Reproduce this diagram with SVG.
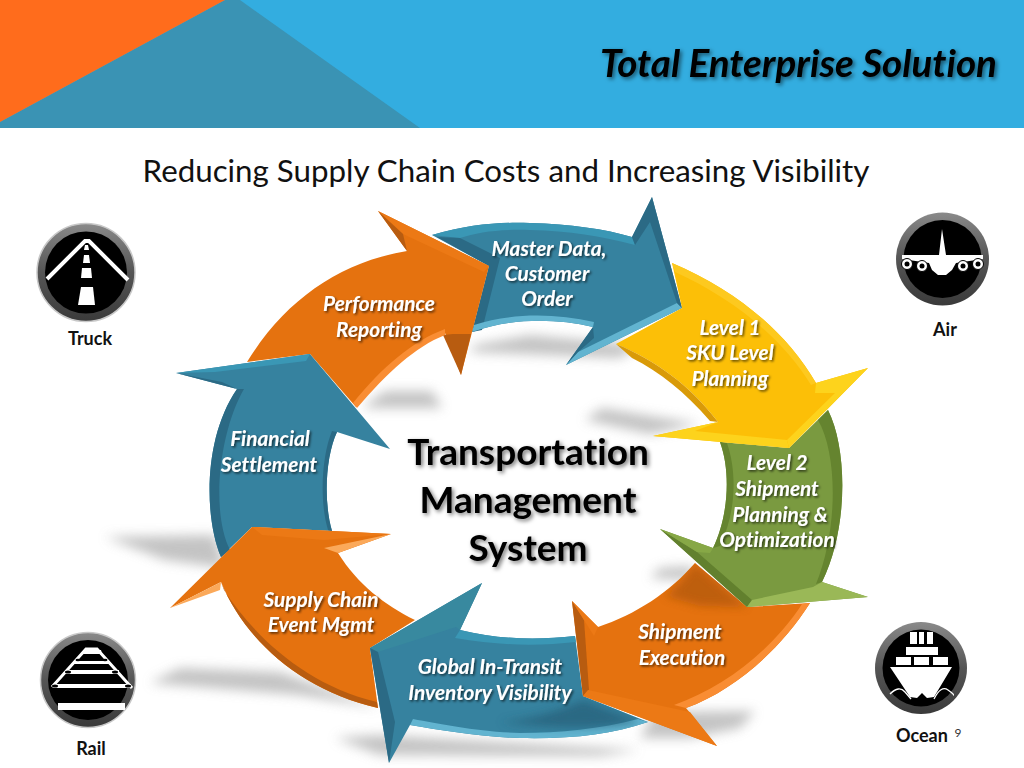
<svg xmlns="http://www.w3.org/2000/svg" width="1024" height="768" viewBox="0 0 1024 768">
<defs>
<filter id="blur" x="-30%" y="-80%" width="160%" height="260%"><feGaussianBlur stdDeviation="6"/></filter>
<filter id="soft" x="-30%" y="-30%" width="160%" height="160%"><feGaussianBlur stdDeviation="4"/></filter>
<filter id="ts" x="-10%" y="-20%" width="125%" height="150%"><feDropShadow dx="1.5" dy="1.5" stdDeviation="1" flood-color="#000" flood-opacity=".65"/></filter>
<filter id="ts2" x="-10%" y="-20%" width="125%" height="150%"><feDropShadow dx="2" dy="2" stdDeviation="2" flood-color="#000" flood-opacity=".55"/></filter>
<linearGradient id="ring" x1="0" y1="0" x2="0" y2="1"><stop offset="0" stop-color="#8a8a8a"/><stop offset=".5" stop-color="#555"/><stop offset="1" stop-color="#3a3a3a"/></linearGradient>
<clipPath id="cs"><path d="M695 563 L747 607 L810 603 C 780 650 735 690 686 708 L717 746 L583 696 L572 601 L598 627 C 635 615 670 592 695 563 Z"/></clipPath>
<clipPath id="cg"><path d="M482 583 L460 630 C 500 640 540 640 575 636 L583 696 L648 722 C 610 735 570 739 520 738 C 480 737 440 730 410 725 L389 763 L370 648 Z"/></clipPath>
</defs>
<style>
text{font-family:Lato,"Liberation Sans",sans-serif;font-variant-ligatures:none}
.lb{font-weight:700;font-style:italic;font-size:20.8px;fill:#fff;text-anchor:middle;filter:url(#ts)}
.ct{font-weight:700;font-size:37px;fill:#000;text-anchor:middle;filter:url(#ts2)}
.ic{font-weight:700;font-size:18px;fill:#111;text-anchor:middle}
.o{fill:#e5720f}.ol{fill:#ec7915}.od{fill:#b85c10}.op{fill:#fba95a}
.t{fill:#36829f}.tl{fill:#3a97b5}.tm{fill:#38899f}.td{fill:#2b6a85}.tp{fill:#62b4d0}
.ring{fill:url(#ring);stroke:#c8c8c8;stroke-width:1.5}
.w{fill:#fff}.k{fill:#000}
.sh{fill:#aaa;opacity:.7;filter:url(#blur)}
</style>
<rect width="1024" height="768" fill="#fff"/>
<g id="header">
<rect width="1024" height="128" fill="#33ade0"/>
<polygon points="0,122 225,0 240,0 420,128 0,128" fill="#3a93b4"/>
<polygon points="0,0 225,0 0,122" fill="#ff6c1c"/>
<text x="997" y="77" text-anchor="end" font-size="38.6" font-weight="700" font-style="italic" fill="#000" filter="url(#ts2)">Total Enterprise Solution</text>
</g>
<text id="subtitle" x="506" y="182" text-anchor="middle" font-size="31.3" fill="#111">Reducing Supply Chain Costs and Increasing Visibility</text>
<g id="shadows">
<polygon class="sh" points="362,408 442,408 432,391 385,391"/>
<polygon class="sh" points="475,345 530,335 640,345 620,358 470,352"/>
<polygon class="sh" points="585,420 602,408 700,424 650,434"/>
<polygon class="sh" points="105,537 215,535 225,568 165,560"/>
<polygon class="sh" points="150,683 180,668 280,672 380,708 300,695"/>
<polygon class="sh" points="335,738 380,735 640,750 600,756 380,755"/>
<polygon class="sh" points="655,712 755,711 740,728 690,738 640,738"/>
<polygon class="sh" points="660,568 695,566 690,580 650,578"/>
</g>
<g id="arrow-master">
<path class="t" d="M432 235 C 470 224 500 222 530 223 C 570 224 605 229 632 237 L652 197 L682 308 L566 365 L593 327 C 555 318 510 318 472 332 L489 266 Z"/>
<path class="tl" d="M432 235 C 470 224 500 222 530 223 C 570 224 605 229 632 237 L635 245 C 600 236 570 231 530 230 C 500 229 478 232 460 238 Z"/>
<path class="td" d="M437 237 L460 238 L500 258 L482 330 L472 332 L489 266 Z"/>
<path class="tp" d="M472 332 C 510 318 555 318 593 327 L594 322 C 555 313 510 313 474 325 Z"/>
<polygon class="tp" points="682,308 566,365 578,352 677,303"/>
<polygon class="td" points="566,365 593,327 594,338 578,352"/>
<polygon class="td" points="652,197 682,308 677,303 650,222 635,245 632,237"/>
</g>
<g id="arrow-performance">
<path class="o" d="M247 362 C 285 300 340 262 407 251 L378 211 L489 266 L461 375 L445 333 C 415 345 385 370 356 407 L310 354 Z"/>
<polygon class="ol" points="378,211 489,266 484,272 403,234"/>
<polygon class="od" points="378,211 403,234 407,251"/>
<polygon class="od" points="443,335 461,375 471,334 453,334"/>
<path d="M353 403 C 383 366 413 341 445 329 L445 335 C 415 347 388 372 357 408 Z" fill="#f98d33"/>
</g>
<g id="arrow-financial">
<path class="t" d="M176 373 L310 354 L390 449 L337 432 C 326 455 323 500 332 531 L252 527 L221 557 C 205 520 202 440 237 389 Z"/>
<polygon class="tl" points="176,373 310,354 306,361 215,372"/>
<polygon class="td" points="176,373 237,389 222,382"/>
<path class="td" d="M237 389 L244 389 C 220 430 210 510 230 550 L221 557 C 205 520 202 440 237 389 Z"/>
<path class="td" d="M337 432 C 326 455 323 500 332 531 L328 530 C 319 500 322 455 332 431 Z"/>
</g>
<g id="arrow-supply">
<path class="o" d="M252 527 L391 534 L338 553 C 358 585 385 605 415 620 L370 648 L378 708 C 300 690 245 640 221 582 L170 608 Z"/>
<polygon class="ol" points="252,527 391,534 324,540 262,535"/>
<polygon class="op" points="391,534 324,548 338,553"/>
<polygon class="op" points="170,608 221,582 220,590"/>
<path class="od" d="M221 582 C 245 640 300 690 378 708 L377 702 C 305 685 253 635 224 590 Z"/>
</g>
<g id="arrow-global">
<path class="t" d="M482 583 L460 630 C 500 640 540 640 575 636 L583 696 L648 722 C 610 735 570 739 520 738 C 480 737 440 730 410 725 L389 763 L370 648 Z"/>
<path class="tl" d="M460 630 C 500 640 540 640 575 636 L576 642 C 540 646 500 646 455 638 Z"/>
<polygon class="tm" points="370,648 482,583 460,630 456,627 378,652"/>
<polygon class="td" points="370,648 389,763 395,722 378,652"/>
<path class="tp" d="M410 725 C 440 730 480 737 520 738 C 570 739 610 735 648 722 L638 719 C 600 729 560 733 520 733 C 480 732 440 724 413 719 Z"/>
<g clip-path="url(#cg)"><path d="M583 700 L640 722 C 590 730 550 728 500 722 C 540 718 565 708 583 700 Z" fill="#285f78" opacity=".7" filter="url(#soft)"/></g>
</g>
<g id="arrow-shipment">
<path class="o" d="M695 563 L747 607 L810 603 C 780 650 735 690 686 708 L717 746 L583 696 L572 601 L598 627 C 635 615 670 592 695 563 Z"/>
<polygon class="od" points="572,601 583,696 589,690 584,620"/>
<polygon class="ol" points="583,696 717,746 690,712 588,690"/>
<polygon class="ol" points="572,601 598,627 594,636 584,620"/>
<path d="M810 603 C 780 650 735 690 686 708 L674 705 C 725 687 772 650 802 604 Z" fill="#f98d33"/>
<g clip-path="url(#cs)"><path d="M695 563 L747 607 L700 606 L665 596 C 675 590 685 575 695 563 Z" fill="#b85c10" opacity=".85" filter="url(#soft)"/></g>
</g>
<g id="arrow-level2">
<path d="M720 442 L789 448 L828 410 C 848 450 848 530 822 582 L868 597 L747 607 L660 529 L713 548 C 727 520 732 475 720 442 Z" fill="#7a9a40"/>
<path d="M828 410 C 848 450 848 530 822 582 L816 584 C 838 530 838 455 818 420 Z" fill="#65842f"/>
<path d="M720 442 C 732 475 727 520 713 548 L720 546 C 735 515 738 475 727 443 Z" fill="#65842f"/>
<polygon points="660,529 747,607 752,600 697,552" fill="#62802e"/>
<polygon points="660,529 713,548 710,553 697,552" fill="#87a846"/>
<polygon points="747,607 868,597 822,582 813,587 752,600" fill="#9ab857"/>
</g>
<g id="arrow-level1">
<path d="M672 263 C 735 290 785 330 816 383 L868 368 L789 448 L653 436 L718 422 C 690 385 655 360 616 344 L682 308 Z" fill="#fcbf07"/>
<path d="M672 263 C 735 290 785 330 816 383 L811 385 C 780 335 730 297 675 272 Z" fill="#fdc91f"/>
<path d="M616 344 C 655 360 690 385 718 422 L710 421 C 685 392 660 372 632 358 Z" fill="#d99a08"/>
<polygon points="653,436 789,448 787,440 695,431 718,422" fill="#fdd31c"/>
<polygon points="868,368 789,448 787,440 835,393 815,393 816,383" fill="#fdd31c"/>
</g>
<g id="labels">
<text class="lb"><tspan x="549" y="256">Master Data,</tspan><tspan x="547" y="281">Customer</tspan><tspan x="547" y="306">Order</tspan></text>
<text class="lb"><tspan x="379" y="311">Performance</tspan><tspan x="379" y="337">Reporting</tspan></text>
<text class="lb"><tspan x="730" y="335">Level 1</tspan><tspan x="730" y="360">SKU Level</tspan><tspan x="730" y="386">Planning</tspan></text>
<text class="lb"><tspan x="777" y="470">Level 2</tspan><tspan x="777" y="496">Shipment</tspan><tspan x="780" y="522">Planning &amp;</tspan><tspan x="777" y="547">Optimization</tspan></text>
<text class="lb"><tspan x="680" y="639">Shipment</tspan><tspan x="682" y="665">Execution</tspan></text>
<text class="lb"><tspan x="490" y="674">Global In-Transit</tspan><tspan x="490" y="700">Inventory Visibility</tspan></text>
<text class="lb"><tspan x="321" y="607">Supply Chain</tspan><tspan x="321" y="632">Event Mgmt</tspan></text>
<text class="lb"><tspan x="270" y="446">Financial</tspan><tspan x="269" y="472">Settlement</tspan></text>
</g>
<g id="center-title">
<text class="ct"><tspan x="528" y="465">Transportation</tspan><tspan x="528" y="513">Management</tspan><tspan x="528" y="561">System</tspan></text>
</g>
<g id="icon-truck">
<circle class="ring" cx="86" cy="272.5" r="49"/>
<circle class="k" cx="86" cy="272.5" r="41"/>
<polyline points="47,279 85,241 89,241 128,280" fill="none" stroke="#fff" stroke-width="4"/>
<polygon class="w" points="85,245 88,245 89,250 84,250"/>
<polygon class="w" points="84,255 89,255 90,263 83,263"/>
<polygon class="w" points="82,268 91,268 92,278 81,278"/>
<polygon class="w" points="81,287 93,287 95,305 78,305"/>
<text class="ic" x="90" y="345">Truck</text>
</g>
<g id="icon-air">
<circle class="ring" cx="942.5" cy="259" r="46.5" style="stroke:none"/>
<circle class="k" cx="942.5" cy="259" r="39"/>
<polygon class="w" points="942,229 946,255 983,255 983,259 956,263 952,270 946,275 938,275 932,270 929,263 902,259 902,255 939,255"/>
<g fill="#fff" stroke="#000" stroke-width="1"><circle cx="907" cy="264" r="5.5"/><circle cx="922" cy="266" r="5.5"/><circle cx="963" cy="266" r="5.5"/><circle cx="978" cy="264" r="5.5"/></g>
<g class="k"><circle cx="907" cy="264" r="2.5"/><circle cx="922" cy="266" r="2.5"/><circle cx="963" cy="266" r="2.5"/><circle cx="978" cy="264" r="2.5"/></g>
<text class="ic" x="945" y="336">Air</text>
</g>
<g id="icon-rail">
<circle class="ring" cx="88" cy="680" r="47.5"/>
<circle class="k" cx="88" cy="680" r="40"/>
<polygon class="w" points="83,650 101,650 102,654 83,654"/>
<rect class="w" x="74" y="661" width="36" height="3"/>
<rect class="w" x="65" y="670" width="54" height="4"/>
<rect class="w" x="53" y="684" width="78" height="4"/>
<rect class="w" x="58" y="703" width="67" height="7"/>
<polyline points="52,687 86,649 97,649 132,688" fill="none" stroke="#fff" stroke-width="3"/>
<g class="k"><ellipse cx="55" cy="686" rx="3" ry="1.5"/><ellipse cx="128" cy="686" rx="3" ry="1.5"/><ellipse cx="68" cy="672" rx="3" ry="1.5"/><ellipse cx="115" cy="672" rx="3" ry="1.5"/><ellipse cx="78" cy="660" rx="2.5" ry="1.2"/><ellipse cx="105" cy="660" rx="2.5" ry="1.2"/></g>
<text class="ic" x="91" y="755">Rail</text>
</g>
<g id="icon-ocean">
<circle class="ring" cx="921" cy="668" r="46" style="stroke:none"/>
<circle class="k" cx="921" cy="668" r="38.5"/>
<rect class="w" x="910" y="632" width="7" height="12"/><rect class="w" x="919" y="632" width="5" height="12"/><rect class="w" x="927" y="632" width="6" height="12"/>
<rect class="w" x="906" y="647" width="32" height="8"/>
<rect class="w" x="896" y="657" width="15" height="8"/><rect class="w" x="914" y="657" width="15" height="8"/><rect class="w" x="933" y="657" width="15" height="8"/>
<polygon class="w" points="890,667 952,667 934,697 927,698 922,693 917,698 910,697"/>
<path d="M890 694 Q899 685 905 692 T911 699 M934 699 Q941 685 948 690 T953 695" fill="none" stroke="#fff" stroke-width="1.3"/>
<text class="ic" x="922" y="742">Ocean</text>
<text x="958" y="737" font-size="12" fill="#333" text-anchor="middle">9</text>
</g>
</svg>
